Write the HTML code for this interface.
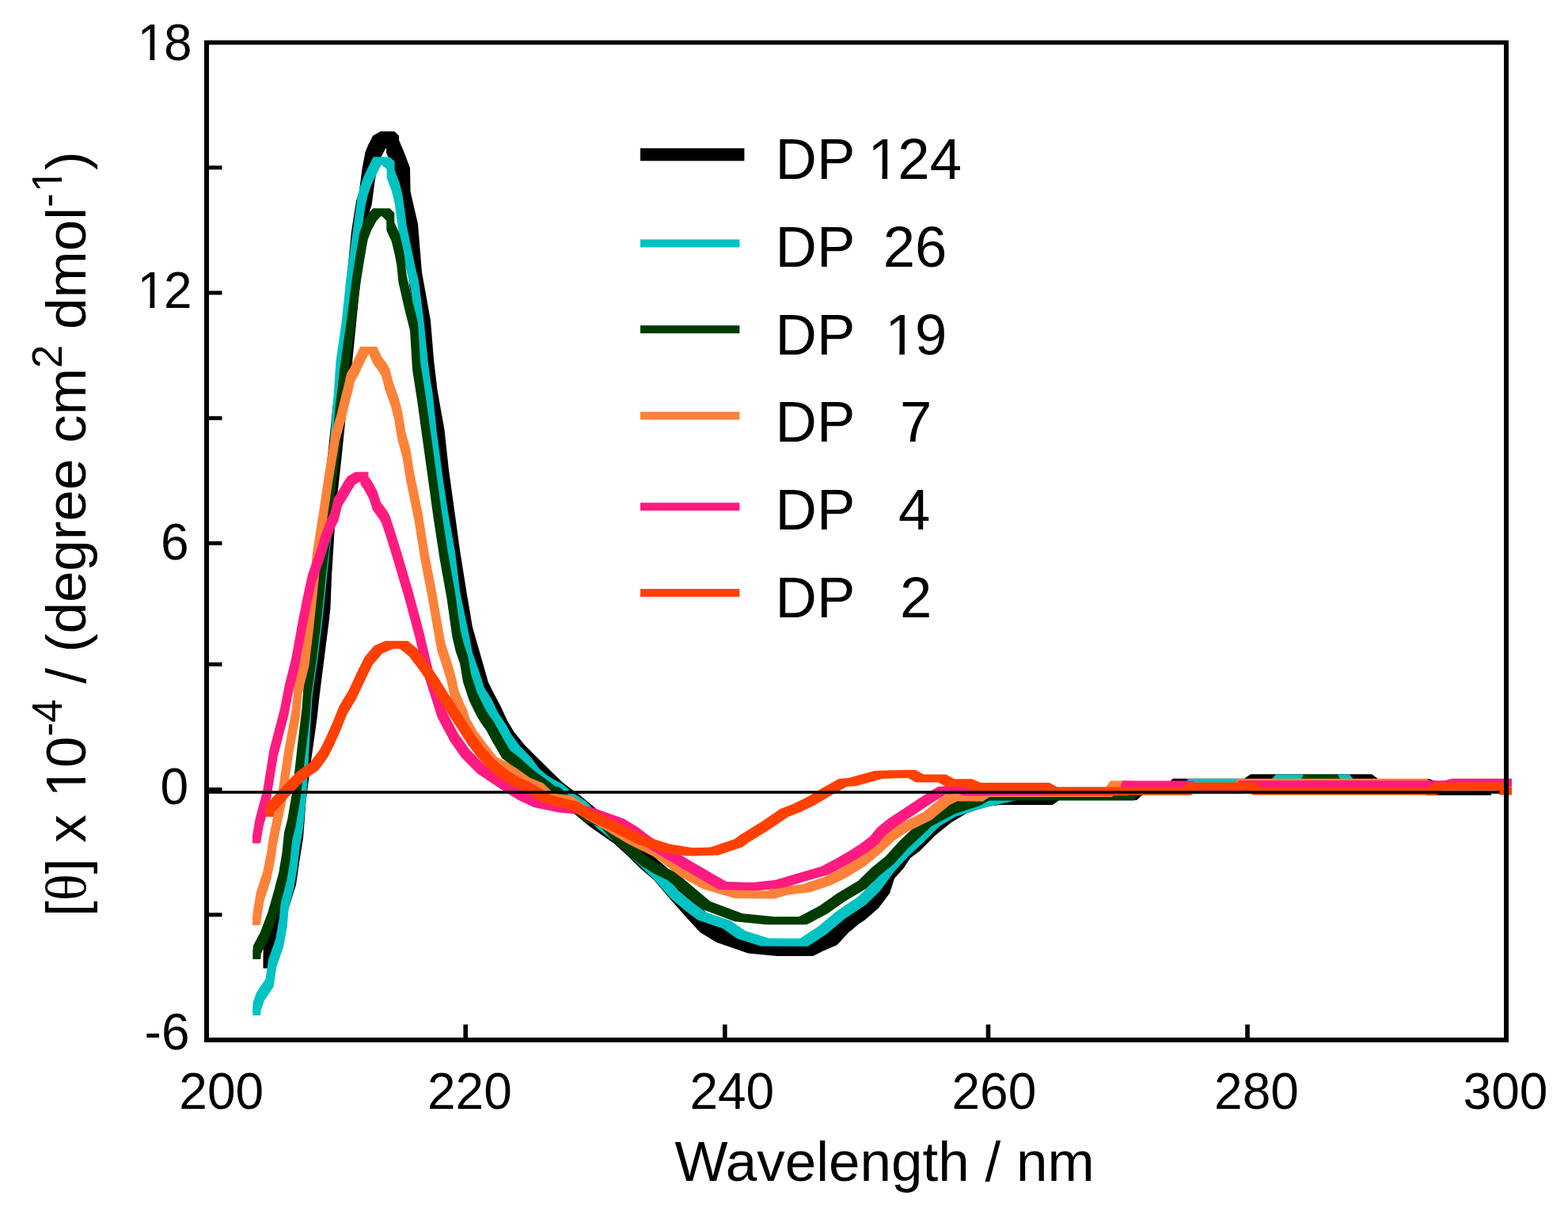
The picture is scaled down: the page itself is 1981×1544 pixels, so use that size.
<!DOCTYPE html>
<html><head><meta charset="utf-8"><title>CD spectra</title>
<style>html,body{margin:0;padding:0;background:#fff;}svg{display:block;}</style>
</head><body>
<svg width="1981" height="1544" viewBox="0 0 1981 1544">
<rect width="1981" height="1544" fill="#ffffff"/>
<path fill="#000000" d="M332.5,1207.5 333.0,1197.0 349.0,1197.0 349.0,1213.0 348.5,1223.5 332.5,1223.5ZM333.0,1197.0 336.0,1182.0 352.0,1182.0 352.0,1198.0 349.0,1213.0 333.0,1213.0ZM336.0,1182.0 342.0,1154.0 358.0,1154.0 358.0,1170.0 352.0,1198.0 336.0,1198.0ZM342.0,1154.0 350.0,1127.0 366.0,1127.0 366.0,1143.0 358.0,1170.0 342.0,1170.0ZM350.0,1127.0 358.0,1102.0 374.0,1102.0 374.0,1118.0 366.0,1143.0 350.0,1143.0ZM358.0,1102.0 362.3,1072.0 378.3,1072.0 378.3,1088.0 374.0,1118.0 358.0,1118.0ZM362.3,1072.0 367.0,1043.6 383.0,1043.6 383.0,1059.6 378.3,1088.0 362.3,1088.0ZM367.0,1043.6 370.5,997.0 386.5,997.0 386.5,1013.0 383.0,1059.6 367.0,1059.6ZM370.5,997.0 376.3,950.3 392.3,950.3 392.3,966.3 386.5,1013.0 370.5,1013.0ZM376.3,950.3 384.5,892.0 400.5,892.0 400.5,908.0 392.3,966.3 376.3,966.3ZM384.5,892.0 387.6,863.6 403.6,863.6 403.6,879.6 400.5,908.0 384.5,908.0ZM387.6,863.6 393.5,817.0 409.5,817.0 409.5,833.0 403.6,879.6 387.6,879.6ZM393.5,817.0 399.5,770.0 415.5,770.0 415.5,786.0 409.5,833.0 393.5,833.0ZM399.5,770.0 401.5,752.0 417.5,752.0 417.5,768.0 415.5,786.0 399.5,786.0ZM401.5,752.0 403.0,712.0 419.0,712.0 419.0,728.0 417.5,768.0 401.5,768.0ZM403.0,712.0 408.5,625.0 424.5,625.0 424.5,641.0 419.0,728.0 403.0,728.0ZM408.5,625.0 415.0,567.0 431.0,567.0 431.0,583.0 424.5,641.0 408.5,641.0ZM415.0,567.0 421.0,508.6 437.0,508.6 437.0,524.6 431.0,583.0 415.0,583.0ZM421.0,508.6 428.0,452.0 444.0,452.0 444.0,468.0 437.0,524.6 421.0,524.6ZM428.0,452.0 434.0,392.0 450.0,392.0 450.0,408.0 444.0,468.0 428.0,468.0ZM434.0,392.0 439.0,342.0 455.0,342.0 455.0,358.0 450.0,408.0 434.0,408.0ZM439.0,342.0 444.0,292.0 460.0,292.0 460.0,308.0 455.0,358.0 439.0,358.0ZM444.0,292.0 450.0,254.0 466.0,254.0 466.0,270.0 460.0,308.0 444.0,308.0ZM450.0,254.0 453.6,243.0 469.6,243.0 469.6,259.0 466.0,270.0 450.0,270.0ZM453.6,243.0 457.6,212.7 473.6,212.7 473.6,228.7 469.6,259.0 453.6,259.0ZM457.6,212.7 461.5,192.0 477.5,192.0 477.5,208.0 473.6,228.7 457.6,228.7ZM461.5,192.0 464.9,183.7 480.9,183.7 480.9,199.7 477.5,208.0 461.5,208.0ZM464.9,183.7 471.1,171.4 487.1,171.4 487.1,187.4 480.9,199.7 464.9,199.7ZM471.1,171.4 480.8,165.9 496.8,165.9 496.8,181.9 487.1,187.4 471.1,187.4ZM480.8,165.9 498.3,165.9 498.3,181.9 480.8,181.9ZM482.3,165.9 498.3,165.9 504.1,171.4 504.1,187.4 488.1,187.4 482.3,181.9ZM488.1,171.4 504.1,171.4 504.1,193.2 488.1,193.2ZM488.1,177.2 504.1,177.2 510.0,191.0 510.0,207.0 494.0,207.0 488.1,193.2ZM494.0,191.0 510.0,191.0 518.0,212.0 518.0,228.0 502.0,228.0 494.0,207.0ZM502.0,212.0 518.0,212.0 518.6,242.0 518.6,258.0 502.6,258.0 502.0,228.0ZM502.6,242.0 518.6,242.0 528.0,283.0 528.0,299.0 512.0,299.0 502.6,258.0ZM512.0,283.0 528.0,283.0 533.0,344.0 533.0,360.0 517.0,360.0 512.0,299.0ZM517.0,344.0 533.0,344.0 539.0,377.0 539.0,393.0 523.0,393.0 517.0,360.0ZM523.0,377.0 539.0,377.0 544.0,405.0 544.0,421.0 528.0,421.0 523.0,393.0ZM528.0,405.0 544.0,405.0 548.0,454.0 548.0,470.0 532.0,470.0 528.0,421.0ZM532.0,454.0 548.0,454.0 552.5,492.5 552.5,508.5 536.5,508.5 532.0,470.0ZM536.5,492.5 552.5,492.5 561.5,543.0 561.5,559.0 545.5,559.0 536.5,508.5ZM545.5,543.0 561.5,543.0 567.0,593.6 567.0,609.6 551.0,609.6 545.5,559.0ZM551.0,593.6 567.0,593.6 574.0,644.1 574.0,660.1 558.0,660.1 551.0,609.6ZM558.0,644.1 574.0,644.1 581.0,694.7 581.0,710.7 565.0,710.7 558.0,660.1ZM565.0,694.7 581.0,694.7 589.0,745.2 589.0,761.2 573.0,761.2 565.0,710.7ZM573.0,745.2 589.0,745.2 597.0,792.5 597.0,808.5 581.0,808.5 573.0,761.2ZM581.0,792.5 597.0,792.5 611.5,843.0 611.5,859.0 595.5,859.0 581.0,808.5ZM595.5,843.0 611.5,843.0 617.0,862.2 617.0,878.2 601.0,878.2 595.5,859.0ZM601.0,862.2 617.0,862.2 624.8,877.7 624.8,893.7 608.8,893.7 601.0,878.2ZM608.8,877.7 624.8,877.7 632.6,892.5 632.6,908.5 616.6,908.5 608.8,893.7ZM616.6,892.5 632.6,892.5 641.0,910.5 641.0,926.5 625.0,926.5 616.6,908.5ZM625.0,910.5 641.0,910.5 649.2,924.4 649.2,940.4 633.2,940.4 625.0,926.5ZM633.2,924.4 649.2,924.4 663.0,941.5 663.0,957.5 647.0,957.5 633.2,940.4ZM647.0,941.5 663.0,941.5 679.0,957.5 679.0,973.5 663.0,973.5 647.0,957.5ZM663.0,957.5 679.0,957.5 694.8,973.0 694.8,989.0 678.8,989.0 663.0,973.5ZM678.8,973.0 694.8,973.0 710.2,988.0 710.2,1004.0 694.2,1004.0 678.8,989.0ZM694.2,988.0 710.2,988.0 717.8,994.0 717.8,1010.0 701.8,1010.0 694.2,1004.0ZM701.8,994.0 717.8,994.0 731.7,1004.0 731.7,1020.0 715.7,1020.0 701.8,1010.0ZM715.7,1004.0 731.7,1004.0 741.3,1012.0 741.3,1028.0 725.3,1028.0 715.7,1020.0ZM725.3,1012.0 741.3,1012.0 760.6,1028.0 760.6,1044.0 744.6,1044.0 725.3,1028.0ZM744.6,1028.0 760.6,1028.0 774.9,1038.0 774.9,1054.0 758.9,1054.0 744.6,1044.0ZM758.9,1038.0 774.9,1038.0 791.8,1049.8 791.8,1065.8 775.8,1065.8 758.9,1054.0ZM775.8,1049.8 791.8,1049.8 808.6,1065.0 808.6,1081.0 792.6,1081.0 775.8,1065.8ZM792.6,1065.0 808.6,1065.0 825.5,1081.8 825.5,1097.8 809.5,1097.8 792.6,1081.0ZM809.5,1081.8 825.5,1081.8 842.3,1096.0 842.3,1112.0 826.3,1112.0 809.5,1097.8ZM826.3,1096.0 842.3,1096.0 860.0,1117.0 860.0,1133.0 844.0,1133.0 826.3,1112.0ZM844.0,1117.0 860.0,1117.0 880.3,1140.0 880.3,1156.0 864.3,1156.0 844.0,1133.0ZM864.3,1140.0 880.3,1140.0 900.5,1162.0 900.5,1178.0 884.5,1178.0 864.3,1156.0ZM884.5,1162.0 900.5,1162.0 920.8,1174.6 920.8,1190.6 904.8,1190.6 884.5,1178.0ZM904.8,1174.6 920.8,1174.6 961.2,1188.5 961.2,1204.5 945.2,1204.5 904.8,1190.6ZM945.2,1188.5 961.2,1188.5 998.0,1191.9 998.0,1207.9 982.0,1207.9 945.2,1204.5ZM982.0,1191.9 1027.2,1191.9 1027.2,1207.9 982.0,1207.9ZM1011.2,1191.9 1023.0,1186.1 1039.0,1186.1 1039.0,1202.1 1027.2,1207.9 1011.2,1207.9ZM1023.0,1186.1 1041.6,1177.9 1057.6,1177.9 1057.6,1193.9 1039.0,1202.1 1023.0,1202.1ZM1041.6,1177.9 1055.6,1162.8 1071.6,1162.8 1071.6,1178.8 1057.6,1193.9 1041.6,1193.9ZM1055.6,1162.8 1069.6,1151.1 1085.6,1151.1 1085.6,1167.1 1071.6,1178.8 1055.6,1178.8ZM1069.6,1151.1 1076.6,1146.4 1092.6,1146.4 1092.6,1162.4 1085.6,1167.1 1069.6,1167.1ZM1076.6,1146.4 1094.1,1131.3 1110.1,1131.3 1110.1,1147.3 1092.6,1162.4 1076.6,1162.4ZM1094.1,1131.3 1108.1,1112.6 1124.1,1112.6 1124.1,1128.6 1110.1,1147.3 1094.1,1147.3ZM1108.1,1112.6 1114.0,1094.0 1130.0,1094.0 1130.0,1110.0 1124.1,1128.6 1108.1,1128.6ZM1114.0,1094.0 1125.6,1081.1 1141.6,1081.1 1141.6,1097.1 1130.0,1110.0 1114.0,1110.0ZM1125.6,1081.1 1134.0,1068.3 1150.0,1068.3 1150.0,1084.3 1141.6,1097.1 1125.6,1097.1ZM1134.0,1068.3 1145.7,1059.4 1161.7,1059.4 1161.7,1075.4 1150.0,1084.3 1134.0,1084.3ZM1145.7,1059.4 1165.9,1039.2 1181.9,1039.2 1181.9,1055.2 1161.7,1075.4 1145.7,1075.4ZM1165.9,1039.2 1186.1,1023.0 1202.1,1023.0 1202.1,1039.0 1181.9,1055.2 1165.9,1055.2ZM1186.1,1023.0 1206.3,1011.0 1222.3,1011.0 1222.3,1027.0 1202.1,1039.0 1186.1,1039.0ZM1206.3,1011.0 1232.0,1003.0 1248.0,1003.0 1248.0,1019.0 1222.3,1027.0 1206.3,1027.0ZM1232.0,1003.0 1247.0,1001.0 1263.0,1001.0 1263.0,1017.0 1248.0,1019.0 1232.0,1019.0ZM1247.0,1001.0 1330.0,1001.0 1330.0,1017.0 1247.0,1017.0ZM1314.0,1001.0 1322.0,995.0 1338.0,995.0 1338.0,1011.0 1330.0,1017.0 1314.0,1017.0ZM1322.0,995.0 1436.0,995.0 1436.0,1011.0 1322.0,1011.0ZM1420.0,995.0 1428.0,988.0 1444.0,988.0 1444.0,1004.0 1436.0,1011.0 1420.0,1011.0ZM1428.0,988.0 1493.0,988.0 1493.0,1004.0 1428.0,1004.0ZM1477.0,988.0 1482.0,983.8 1498.0,983.8 1498.0,999.8 1493.0,1004.0 1477.0,1004.0ZM1482.0,983.8 1588.0,983.8 1588.0,999.8 1482.0,999.8ZM1572.0,983.8 1580.0,978.3 1596.0,978.3 1596.0,994.3 1588.0,999.8 1572.0,999.8ZM1580.0,978.3 1733.0,978.3 1733.0,994.3 1580.0,994.3ZM1717.0,978.3 1733.0,978.3 1741.0,984.0 1741.0,1000.0 1725.0,1000.0 1717.0,994.3ZM1725.0,984.0 1805.0,984.0 1805.0,1000.0 1725.0,1000.0ZM1789.0,984.0 1805.0,984.0 1819.0,988.8 1819.0,1004.8 1803.0,1004.8 1789.0,1000.0ZM1803.0,988.8 1884.0,988.8 1884.0,1004.8 1803.0,1004.8Z"/>
<path fill="#00C2C2" d="M319.2,1273.0 319.5,1267.0 329.5,1267.0 329.5,1277.0 329.2,1283.0 319.2,1283.0ZM319.5,1267.0 324.0,1254.0 334.0,1254.0 334.0,1264.0 329.5,1277.0 319.5,1277.0ZM324.0,1254.0 335.5,1237.0 345.5,1237.0 345.5,1247.0 334.0,1264.0 324.0,1264.0ZM335.5,1237.0 339.2,1212.0 349.2,1212.0 349.2,1222.0 345.5,1247.0 335.5,1247.0ZM339.2,1212.0 348.1,1186.5 358.1,1186.5 358.1,1196.5 349.2,1222.0 339.2,1222.0ZM348.1,1186.5 352.7,1161.0 362.7,1161.0 362.7,1171.0 358.1,1196.5 348.1,1196.5ZM352.7,1161.0 354.9,1136.0 364.9,1136.0 364.9,1146.0 362.7,1171.0 352.7,1171.0ZM354.9,1136.0 361.6,1111.0 371.6,1111.0 371.6,1121.0 364.9,1146.0 354.9,1146.0ZM361.6,1111.0 365.8,1085.5 375.8,1085.5 375.8,1095.5 371.6,1121.0 361.6,1121.0ZM365.8,1085.5 368.7,1060.0 378.7,1060.0 378.7,1070.0 375.8,1095.5 365.8,1095.5ZM368.7,1060.0 372.5,1040.0 382.5,1040.0 382.5,1050.0 378.7,1070.0 368.7,1070.0ZM372.5,1040.0 377.0,998.0 387.0,998.0 387.0,1008.0 382.5,1050.0 372.5,1050.0ZM377.0,998.0 380.0,945.0 390.0,945.0 390.0,955.0 387.0,1008.0 377.0,1008.0ZM380.0,945.0 383.0,895.0 393.0,895.0 393.0,905.0 390.0,955.0 380.0,955.0ZM383.0,895.0 385.0,866.6 395.0,866.6 395.0,876.6 393.0,905.0 383.0,905.0ZM385.0,866.6 391.8,820.0 401.8,820.0 401.8,830.0 395.0,876.6 385.0,876.6ZM391.8,820.0 397.5,773.0 407.5,773.0 407.5,783.0 401.8,830.0 391.8,830.0ZM397.5,773.0 403.5,715.0 413.5,715.0 413.5,725.0 407.5,783.0 397.5,783.0ZM403.5,715.0 411.0,645.0 421.0,645.0 421.0,655.0 413.5,725.0 403.5,725.0ZM411.0,645.0 415.0,581.5 425.0,581.5 425.0,591.5 421.0,655.0 411.0,655.0ZM415.0,581.5 420.8,511.6 430.8,511.6 430.8,521.6 425.0,591.5 415.0,591.5ZM420.8,511.6 424.4,457.0 434.4,457.0 434.4,467.0 430.8,521.6 420.8,521.6ZM424.4,457.0 431.5,407.8 441.5,407.8 441.5,417.8 434.4,467.0 424.4,467.0ZM431.5,407.8 438.0,347.0 448.0,347.0 448.0,357.0 441.5,417.8 431.5,417.8ZM438.0,347.0 446.5,286.5 456.5,286.5 456.5,296.5 448.0,357.0 438.0,357.0ZM446.5,286.5 451.5,250.0 461.5,250.0 461.5,260.0 456.5,296.5 446.5,296.5ZM451.5,250.0 454.9,236.1 464.9,236.1 464.9,246.1 461.5,260.0 451.5,260.0ZM454.9,236.1 459.4,223.2 469.4,223.2 469.4,233.2 464.9,246.1 454.9,246.1ZM459.4,223.2 464.0,213.5 474.0,213.5 474.0,223.5 469.4,233.2 459.4,233.2ZM464.0,213.5 471.7,198.3 481.7,198.3 481.7,208.3 474.0,223.5 464.0,223.5ZM471.7,198.3 491.8,198.3 491.8,208.3 471.7,208.3ZM481.8,198.3 491.8,198.3 498.6,203.8 498.6,213.8 488.6,213.8 481.8,208.3ZM488.6,203.8 498.6,203.8 498.6,224.8 488.6,224.8ZM488.6,214.8 498.6,214.8 504.8,231.0 504.8,241.0 494.8,241.0 488.6,224.8ZM494.8,231.0 504.8,231.0 508.7,247.0 508.7,257.0 498.7,257.0 494.8,241.0ZM498.7,247.0 508.7,247.0 514.0,286.5 514.0,296.5 504.0,296.5 498.7,257.0ZM504.0,286.5 514.0,286.5 516.3,296.8 516.3,306.8 506.3,306.8 504.0,296.5ZM506.3,296.8 516.3,296.8 524.3,335.7 524.3,345.7 514.3,345.7 506.3,306.8ZM514.3,335.7 524.3,335.7 529.0,355.0 529.0,365.0 519.0,365.0 514.3,345.7ZM519.0,355.0 529.0,355.0 535.5,405.0 535.5,415.0 525.5,415.0 519.0,365.0ZM525.5,405.0 535.5,405.0 540.7,457.0 540.7,467.0 530.7,467.0 525.5,415.0ZM530.7,457.0 540.7,457.0 544.5,485.0 544.5,495.0 534.5,495.0 530.7,467.0ZM534.5,485.0 544.5,485.0 546.5,495.5 546.5,505.5 536.5,505.5 534.5,495.0ZM536.5,495.5 546.5,495.5 551.5,543.0 551.5,553.0 541.5,553.0 536.5,505.5ZM541.5,543.0 551.5,543.0 559.6,605.0 559.6,615.0 549.6,615.0 541.5,553.0ZM549.6,605.0 559.6,605.0 566.0,647.1 566.0,657.1 556.0,657.1 549.6,615.0ZM556.0,647.1 566.0,647.1 575.1,697.7 575.1,707.7 565.1,707.7 556.0,657.1ZM565.1,697.7 575.1,697.7 581.2,748.2 581.2,758.2 571.2,758.2 565.1,707.7ZM571.2,748.2 581.2,748.2 591.6,797.0 591.6,807.0 581.6,807.0 571.2,758.2ZM581.6,797.0 591.6,797.0 597.0,825.0 597.0,835.0 587.0,835.0 581.6,807.0ZM587.0,825.0 597.0,825.0 604.7,846.3 604.7,856.3 594.7,856.3 587.0,835.0ZM594.7,846.3 604.7,846.3 611.8,868.7 611.8,878.7 601.8,878.7 594.7,856.3ZM601.8,868.7 611.8,868.7 621.0,883.0 621.0,893.0 611.0,893.0 601.8,878.7ZM611.0,883.0 621.0,883.0 629.0,900.0 629.0,910.0 619.0,910.0 611.0,893.0ZM619.0,900.0 629.0,900.0 639.7,916.0 639.7,926.0 629.7,926.0 619.0,910.0ZM629.7,916.0 639.7,916.0 646.0,928.0 646.0,938.0 636.0,938.0 629.7,926.0ZM636.0,928.0 646.0,928.0 656.0,941.5 656.0,951.5 646.0,951.5 636.0,938.0ZM646.0,941.5 656.0,941.5 663.7,949.5 663.7,959.5 653.7,959.5 646.0,951.5ZM653.7,949.5 663.7,949.5 672.0,958.5 672.0,968.5 662.0,968.5 653.7,959.5ZM662.0,958.5 672.0,958.5 680.2,970.0 680.2,980.0 670.2,980.0 662.0,968.5ZM670.2,970.0 680.2,970.0 691.0,979.5 691.0,989.5 681.0,989.5 670.2,980.0ZM681.0,979.5 691.0,979.5 700.1,985.0 700.1,995.0 690.1,995.0 681.0,989.5ZM690.1,985.0 700.1,985.0 710.2,990.3 710.2,1000.3 700.2,1000.3 690.1,995.0ZM700.2,990.3 710.2,990.3 718.3,997.1 718.3,1007.1 708.3,1007.1 700.2,1000.3ZM708.3,997.1 718.3,997.1 720.3,1001.0 720.3,1011.0 710.3,1011.0 708.3,1007.1ZM710.3,1001.0 720.3,1001.0 728.4,1004.5 728.4,1014.5 718.4,1014.5 710.3,1011.0ZM718.4,1004.5 728.4,1004.5 734.4,1008.4 734.4,1018.4 724.4,1018.4 718.4,1014.5ZM724.4,1008.4 734.4,1008.4 740.5,1012.5 740.5,1022.5 730.5,1022.5 724.4,1018.4ZM730.5,1012.5 740.5,1012.5 747.4,1019.7 747.4,1029.7 737.4,1029.7 730.5,1022.5ZM737.4,1019.7 747.4,1019.7 765.0,1037.0 765.0,1047.0 755.0,1047.0 737.4,1029.7ZM755.0,1037.0 765.0,1037.0 788.8,1056.0 788.8,1066.0 778.8,1066.0 755.0,1047.0ZM778.8,1056.0 788.8,1056.0 805.6,1072.0 805.6,1082.0 795.6,1082.0 778.8,1066.0ZM795.6,1072.0 805.6,1072.0 822.5,1088.0 822.5,1098.0 812.5,1098.0 795.6,1082.0ZM812.5,1088.0 822.5,1088.0 836.3,1101.3 836.3,1111.3 826.3,1111.3 812.5,1098.0ZM826.3,1101.3 836.3,1101.3 857.1,1125.0 857.1,1135.0 847.1,1135.0 826.3,1111.3ZM847.1,1125.0 857.1,1125.0 875.0,1140.0 875.0,1150.0 865.0,1150.0 847.1,1135.0ZM865.0,1140.0 875.0,1140.0 891.6,1152.5 891.6,1162.5 881.6,1162.5 865.0,1150.0ZM881.6,1152.5 891.6,1152.5 922.7,1163.0 922.7,1173.0 912.7,1173.0 881.6,1162.5ZM912.7,1163.0 922.7,1163.0 941.4,1176.0 941.4,1186.0 931.4,1186.0 912.7,1173.0ZM931.4,1176.0 941.4,1176.0 971.4,1185.6 971.4,1195.6 961.4,1195.6 931.4,1186.0ZM961.4,1185.6 971.4,1185.6 1020.7,1185.7 1020.7,1195.7 1010.7,1195.7 961.4,1195.6ZM1010.7,1185.7 1034.0,1170.5 1044.0,1170.5 1044.0,1180.5 1020.7,1195.7 1010.7,1195.7ZM1034.0,1170.5 1057.3,1151.0 1067.3,1151.0 1067.3,1161.0 1044.0,1180.5 1034.0,1180.5ZM1057.3,1151.0 1084.1,1133.0 1094.1,1133.0 1094.1,1143.0 1067.3,1161.0 1057.3,1161.0ZM1084.1,1133.0 1101.6,1116.0 1111.6,1116.0 1111.6,1126.0 1094.1,1143.0 1084.1,1143.0ZM1101.6,1116.0 1119.1,1092.0 1129.1,1092.0 1129.1,1102.0 1111.6,1126.0 1101.6,1126.0ZM1119.1,1092.0 1136.6,1073.0 1146.6,1073.0 1146.6,1083.0 1129.1,1102.0 1119.1,1102.0ZM1136.6,1073.0 1156.7,1054.3 1166.7,1054.3 1166.7,1064.3 1146.6,1083.0 1136.6,1083.0ZM1156.7,1054.3 1176.9,1034.0 1186.9,1034.0 1186.9,1044.0 1166.7,1064.3 1156.7,1064.3ZM1176.9,1034.0 1197.1,1021.9 1207.1,1021.9 1207.1,1031.9 1186.9,1044.0 1176.9,1044.0ZM1197.1,1021.9 1227.4,1012.2 1237.4,1012.2 1237.4,1022.2 1207.1,1031.9 1197.1,1031.9ZM1227.4,1012.2 1247.7,1007.2 1257.7,1007.2 1257.7,1017.2 1237.4,1022.2 1227.4,1022.2ZM1247.7,1007.2 1275.0,1001.0 1285.0,1001.0 1285.0,1011.0 1257.7,1017.2 1247.7,1017.2ZM1275.0,1001.0 1295.0,994.5 1305.0,994.5 1305.0,1004.5 1285.0,1011.0 1275.0,1011.0ZM1295.0,994.5 1505.0,994.5 1505.0,1004.5 1295.0,1004.5ZM1495.0,994.5 1501.0,984.0 1511.0,984.0 1511.0,994.0 1505.0,1004.5 1495.0,1004.5ZM1501.0,984.0 1617.0,984.0 1617.0,994.0 1501.0,994.0ZM1607.0,984.0 1612.0,978.5 1622.0,978.5 1622.0,988.5 1617.0,994.0 1607.0,994.0ZM1612.0,978.5 1705.0,978.5 1705.0,988.5 1612.0,988.5ZM1695.0,978.5 1705.0,978.5 1711.0,986.0 1711.0,996.0 1701.0,996.0 1695.0,988.5ZM1701.0,986.0 1711.0,986.0 1910.0,991.0 1910.0,1001.0 1900.0,1001.0 1701.0,996.0Z"/>
<path fill="#003C00" d="M319.3,1202.0 319.8,1195.0 329.8,1195.0 329.8,1205.0 329.3,1212.0 319.3,1212.0ZM319.8,1195.0 328.8,1178.0 338.8,1178.0 338.8,1188.0 329.8,1205.0 319.8,1205.0ZM328.8,1178.0 338.4,1152.8 348.4,1152.8 348.4,1162.8 338.8,1188.0 328.8,1188.0ZM338.4,1152.8 345.6,1127.6 355.6,1127.6 355.6,1137.6 348.4,1162.8 338.4,1162.8ZM345.6,1127.6 352.3,1102.3 362.3,1102.3 362.3,1112.3 355.6,1137.6 345.6,1137.6ZM352.3,1102.3 356.5,1077.1 366.5,1077.1 366.5,1087.1 362.3,1112.3 352.3,1112.3ZM356.5,1077.1 359.0,1051.8 369.0,1051.8 369.0,1061.8 366.5,1087.1 356.5,1087.1ZM359.0,1051.8 363.3,1035.0 373.3,1035.0 373.3,1045.0 369.0,1061.8 359.0,1061.8ZM363.3,1035.0 369.7,997.7 379.7,997.7 379.7,1007.7 373.3,1045.0 363.3,1045.0ZM369.7,997.7 375.3,947.1 385.3,947.1 385.3,957.1 379.7,1007.7 369.7,1007.7ZM375.3,947.1 381.5,895.0 391.5,895.0 391.5,905.0 385.3,957.1 375.3,957.1ZM381.5,895.0 383.6,866.6 393.6,866.6 393.6,876.6 391.5,905.0 381.5,905.0ZM383.6,866.6 390.3,820.0 400.3,820.0 400.3,830.0 393.6,876.6 383.6,876.6ZM390.3,820.0 396.0,773.0 406.0,773.0 406.0,783.0 400.3,830.0 390.3,830.0ZM396.0,773.0 402.0,715.0 412.0,715.0 412.0,725.0 406.0,783.0 396.0,783.0ZM402.0,715.0 407.0,675.0 417.0,675.0 417.0,685.0 412.0,725.0 402.0,725.0ZM407.0,675.0 414.0,605.0 424.0,605.0 424.0,615.0 417.0,685.0 407.0,685.0ZM414.0,605.0 420.0,555.0 430.0,555.0 430.0,565.0 424.0,615.0 414.0,615.0ZM420.0,555.0 424.0,511.6 434.0,511.6 434.0,521.6 430.0,565.0 420.0,565.0ZM424.0,511.6 430.5,457.0 440.5,457.0 440.5,467.0 434.0,521.6 424.0,521.6ZM430.5,457.0 437.5,407.8 447.5,407.8 447.5,417.8 440.5,467.0 430.5,467.0ZM437.5,407.8 445.6,347.0 455.6,347.0 455.6,357.0 447.5,417.8 437.5,417.8ZM445.6,347.0 449.7,321.2 459.7,321.2 459.7,331.2 455.6,357.0 445.6,357.0ZM449.7,321.2 453.0,301.8 463.0,301.8 463.0,311.8 459.7,331.2 449.7,331.2ZM453.0,301.8 454.9,292.1 464.9,292.1 464.9,302.1 463.0,311.8 453.0,311.8ZM454.9,292.1 459.4,280.4 469.4,280.4 469.4,290.4 464.9,302.1 454.9,302.1ZM459.4,280.4 465.9,268.8 475.9,268.8 475.9,278.8 469.4,290.4 459.4,290.4ZM465.9,268.8 471.4,263.3 481.4,263.3 481.4,273.3 475.9,278.8 465.9,278.8ZM471.4,263.3 492.5,263.3 492.5,273.3 471.4,273.3ZM482.5,263.3 492.5,263.3 498.3,269.1 498.3,279.1 488.3,279.1 482.5,273.3ZM488.3,269.1 498.3,269.1 498.3,291.1 488.3,291.1ZM488.3,281.1 498.3,281.1 504.8,295.3 504.8,305.3 494.8,305.3 488.3,291.1ZM494.8,295.3 504.8,295.3 508.7,311.5 508.7,321.5 498.7,321.5 494.8,305.3ZM498.7,311.5 508.7,311.5 511.2,324.5 511.2,334.5 501.2,334.5 498.7,321.5ZM501.2,324.5 511.2,324.5 513.5,347.0 513.5,357.0 503.5,357.0 501.2,334.5ZM503.5,347.0 513.5,347.0 521.0,380.0 521.0,390.0 511.0,390.0 503.5,357.0ZM511.0,380.0 521.0,380.0 528.0,407.8 528.0,417.8 518.0,417.8 511.0,390.0ZM518.0,407.8 528.0,407.8 531.0,457.0 531.0,467.0 521.0,467.0 518.0,417.8ZM521.0,457.0 531.0,457.0 537.0,495.5 537.0,505.5 527.0,505.5 521.0,467.0ZM527.0,495.5 537.0,495.5 544.0,546.0 544.0,556.0 534.0,556.0 527.0,505.5ZM534.0,546.0 544.0,546.0 551.0,596.6 551.0,606.6 541.0,606.6 534.0,556.0ZM541.0,596.6 551.0,596.6 558.0,647.1 558.0,657.1 548.0,657.1 541.0,606.6ZM548.0,647.1 558.0,647.1 565.8,697.7 565.8,707.7 555.8,707.7 548.0,657.1ZM555.8,697.7 565.8,697.7 574.5,746.0 574.5,756.0 564.5,756.0 555.8,707.7ZM564.5,746.0 574.5,746.0 581.5,795.5 581.5,805.5 571.5,805.5 564.5,756.0ZM571.5,795.5 581.5,795.5 586.0,814.0 586.0,824.0 576.0,824.0 571.5,805.5ZM576.0,814.0 586.0,814.0 591.1,828.5 591.1,838.5 581.1,838.5 576.0,824.0ZM581.1,828.5 591.1,828.5 595.0,851.8 595.0,861.8 585.0,861.8 581.1,838.5ZM585.0,851.8 595.0,851.8 602.7,875.1 602.7,885.1 592.7,885.1 585.0,861.8ZM592.7,875.1 602.7,875.1 609.0,888.0 609.0,898.0 599.0,898.0 592.7,885.1ZM599.0,888.0 609.0,888.0 612.5,895.0 612.5,905.0 602.5,905.0 599.0,898.0ZM602.5,895.0 612.5,895.0 618.0,904.1 618.0,914.1 608.0,914.1 602.5,905.0ZM608.0,904.1 618.0,904.1 624.2,912.6 624.2,922.6 614.2,922.6 608.0,914.1ZM614.2,912.6 624.2,912.6 632.6,928.0 632.6,938.0 622.6,938.0 614.2,922.6ZM622.6,928.0 632.6,928.0 644.3,948.0 644.3,958.0 634.3,958.0 622.6,938.0ZM634.3,948.0 644.3,948.0 656.6,957.4 656.6,967.4 646.6,967.4 634.3,958.0ZM646.6,957.4 656.6,957.4 665.4,965.5 665.4,975.5 655.4,975.5 646.6,967.4ZM655.4,965.5 665.4,965.5 675.5,974.3 675.5,984.3 665.5,984.3 655.4,975.5ZM665.5,974.3 675.5,974.3 691.5,985.8 691.5,995.8 681.5,995.8 665.5,984.3ZM681.5,985.8 691.5,985.8 702.5,994.3 702.5,1004.3 692.5,1004.3 681.5,995.8ZM692.5,994.3 702.5,994.3 706.6,994.4 706.6,1004.4 696.6,1004.4 692.5,1004.3ZM696.6,994.4 706.6,994.4 733.6,1017.0 733.6,1027.0 723.6,1027.0 696.6,1004.4ZM723.6,1017.0 733.6,1017.0 752.1,1029.7 752.1,1039.7 742.1,1039.7 723.6,1027.0ZM742.1,1029.7 752.1,1029.7 768.9,1035.0 768.9,1045.0 758.9,1045.0 742.1,1039.7ZM758.9,1035.0 768.9,1035.0 785.8,1054.1 785.8,1064.1 775.8,1064.1 758.9,1045.0ZM775.8,1054.1 785.8,1054.1 802.6,1069.3 802.6,1079.3 792.6,1079.3 775.8,1064.1ZM792.6,1069.3 802.6,1069.3 819.5,1083.6 819.5,1093.6 809.5,1093.6 792.6,1079.3ZM809.5,1083.6 819.5,1083.6 836.3,1093.7 836.3,1103.7 826.3,1103.7 809.5,1093.6ZM826.3,1093.7 836.3,1093.7 853.2,1102.1 853.2,1112.1 843.2,1112.1 826.3,1103.7ZM843.2,1102.1 853.2,1102.1 857.1,1105.0 857.1,1115.0 847.1,1115.0 843.2,1112.1ZM847.1,1105.0 857.1,1105.0 897.5,1139.1 897.5,1149.1 887.5,1149.1 847.1,1115.0ZM887.5,1139.1 897.5,1139.1 938.0,1154.3 938.0,1164.3 928.0,1164.3 887.5,1149.1ZM928.0,1154.3 938.0,1154.3 978.4,1158.3 978.4,1168.3 968.4,1168.3 928.0,1164.3ZM968.4,1158.3 1018.8,1158.3 1018.8,1168.3 968.4,1168.3ZM1008.8,1158.3 1011.8,1157.0 1021.8,1157.0 1021.8,1167.0 1018.8,1168.3 1008.8,1168.3ZM1011.8,1157.0 1035.4,1144.5 1045.4,1144.5 1045.4,1154.5 1021.8,1167.0 1011.8,1167.0ZM1035.4,1144.5 1057.3,1129.0 1067.3,1129.0 1067.3,1139.0 1045.4,1154.5 1035.4,1154.5ZM1057.3,1129.0 1084.1,1113.0 1094.1,1113.0 1094.1,1123.0 1067.3,1139.0 1057.3,1139.0ZM1084.1,1113.0 1101.6,1096.0 1111.6,1096.0 1111.6,1106.0 1094.1,1123.0 1084.1,1123.0ZM1101.6,1096.0 1119.1,1081.7 1129.1,1081.7 1129.1,1091.7 1111.6,1106.0 1101.6,1106.0ZM1119.1,1081.7 1136.6,1062.4 1146.6,1062.4 1146.6,1072.4 1129.1,1091.7 1119.1,1091.7ZM1136.6,1062.4 1166.8,1034.0 1176.8,1034.0 1176.8,1044.0 1146.6,1072.4 1136.6,1072.4ZM1166.8,1034.0 1197.1,1017.9 1207.1,1017.9 1207.1,1027.9 1176.8,1044.0 1166.8,1044.0ZM1197.1,1017.9 1227.4,1008.2 1237.4,1008.2 1237.4,1018.2 1207.1,1027.9 1197.1,1027.9ZM1227.4,1008.2 1240.0,1001.5 1250.0,1001.5 1250.0,1011.5 1237.4,1018.2 1227.4,1018.2ZM1240.0,1001.5 1433.0,1001.5 1433.0,1011.5 1240.0,1011.5ZM1423.0,1001.5 1431.0,992.0 1441.0,992.0 1441.0,1002.0 1433.0,1011.5 1423.0,1011.5ZM1431.0,992.0 1650.0,992.0 1650.0,1002.0 1431.0,1002.0ZM1640.0,992.0 1647.0,978.5 1657.0,978.5 1657.0,988.5 1650.0,1002.0 1640.0,1002.0ZM1647.0,978.5 1690.0,978.5 1690.0,988.5 1647.0,988.5ZM1680.0,978.5 1690.0,978.5 1697.0,992.0 1697.0,1002.0 1687.0,1002.0 1680.0,988.5ZM1687.0,992.0 1910.0,992.0 1910.0,1002.0 1687.0,1002.0Z"/>
<path fill="#FD8239" d="M319.0,1159.0 319.6,1152.8 329.6,1152.8 329.6,1162.8 329.0,1169.0 319.0,1169.0ZM319.6,1152.8 323.7,1127.6 333.7,1127.6 333.7,1137.6 329.6,1162.8 319.6,1162.8ZM323.7,1127.6 332.1,1102.3 342.1,1102.3 342.1,1112.3 333.7,1137.6 323.7,1137.6ZM332.1,1102.3 337.2,1077.1 347.2,1077.1 347.2,1087.1 342.1,1112.3 332.1,1112.3ZM337.2,1077.1 339.9,1058.3 349.9,1058.3 349.9,1068.3 347.2,1087.1 337.2,1087.1ZM339.9,1058.3 344.5,1035.0 354.5,1035.0 354.5,1045.0 349.9,1068.3 339.9,1068.3ZM344.5,1035.0 351.0,1005.0 361.0,1005.0 361.0,1015.0 354.5,1045.0 344.5,1045.0ZM351.0,1005.0 355.0,976.6 365.0,976.6 365.0,986.6 361.0,1015.0 351.0,1015.0ZM355.0,976.6 360.3,941.6 370.3,941.6 370.3,951.6 365.0,986.6 355.0,986.6ZM360.3,941.6 369.0,895.0 379.0,895.0 379.0,905.0 370.3,951.6 360.3,951.6ZM369.0,895.0 371.6,866.6 381.6,866.6 381.6,876.6 379.0,905.0 369.0,905.0ZM371.6,866.6 380.4,831.6 390.4,831.6 390.4,841.6 381.6,876.6 371.6,876.6ZM380.4,831.6 386.0,785.0 396.0,785.0 396.0,795.0 390.4,841.6 380.4,841.6ZM386.0,785.0 390.0,747.0 400.0,747.0 400.0,757.0 396.0,795.0 386.0,795.0ZM390.0,747.0 395.0,697.7 405.0,697.7 405.0,707.7 400.0,757.0 390.0,757.0ZM395.0,697.7 403.0,647.1 413.0,647.1 413.0,657.1 405.0,707.7 395.0,707.7ZM403.0,647.1 410.5,596.6 420.5,596.6 420.5,606.6 413.0,657.1 403.0,657.1ZM410.5,596.6 419.0,546.0 429.0,546.0 429.0,556.0 420.5,606.6 410.5,606.6ZM419.0,546.0 426.5,520.0 436.5,520.0 436.5,530.0 429.0,556.0 419.0,556.0ZM426.5,520.0 431.0,501.0 441.0,501.0 441.0,511.0 436.5,530.0 426.5,530.0ZM431.0,501.0 434.9,486.1 444.9,486.1 444.9,496.1 441.0,511.0 431.0,511.0ZM434.9,486.1 438.1,471.8 448.1,471.8 448.1,481.8 444.9,496.1 434.9,496.1ZM438.1,471.8 442.7,464.0 452.7,464.0 452.7,474.0 448.1,481.8 438.1,481.8ZM442.7,464.0 447.2,454.3 457.2,454.3 457.2,464.3 452.7,474.0 442.7,474.0ZM447.2,454.3 455.3,438.1 465.3,438.1 465.3,448.1 457.2,464.3 447.2,464.3ZM455.3,438.1 476.3,438.1 476.3,448.1 455.3,448.1ZM466.3,438.1 476.3,438.1 481.5,449.8 481.5,459.8 471.5,459.8 466.3,448.1ZM471.5,449.8 481.5,449.8 488.7,459.5 488.7,469.5 478.7,469.5 471.5,459.8ZM478.7,459.5 488.7,459.5 492.5,466.6 492.5,476.6 482.5,476.6 478.7,469.5ZM482.5,466.6 492.5,466.6 496.4,482.2 496.4,492.2 486.4,492.2 482.5,476.6ZM486.4,482.2 496.4,482.2 504.2,504.2 504.2,514.2 494.2,514.2 486.4,492.2ZM494.2,504.2 504.2,504.2 508.1,520.0 508.1,530.0 498.1,530.0 494.2,514.2ZM498.1,520.0 508.1,520.0 512.5,546.0 512.5,556.0 502.5,556.0 498.1,530.0ZM502.5,546.0 512.5,546.0 518.5,567.9 518.5,577.9 508.5,577.9 502.5,556.0ZM508.5,567.9 518.5,567.9 523.0,596.6 523.0,606.6 513.0,606.6 508.5,577.9ZM513.0,596.6 523.0,596.6 533.4,647.1 533.4,657.1 523.4,657.1 513.0,606.6ZM523.4,647.1 533.4,647.1 541.5,697.7 541.5,707.7 531.5,707.7 523.4,657.1ZM531.5,697.7 541.5,697.7 551.0,747.0 551.0,757.0 541.0,757.0 531.5,707.7ZM541.0,747.0 551.0,747.0 559.3,795.5 559.3,805.5 549.3,805.5 541.0,757.0ZM549.3,795.5 559.3,795.5 562.6,813.0 562.6,823.0 552.6,823.0 549.3,805.5ZM552.6,813.0 562.6,813.0 567.8,828.5 567.8,838.5 557.8,838.5 552.6,823.0ZM557.8,828.5 567.8,828.5 574.2,849.2 574.2,859.2 564.2,859.2 557.8,838.5ZM564.2,849.2 574.2,849.2 579.4,872.5 579.4,882.5 569.4,882.5 564.2,859.2ZM569.4,872.5 579.4,872.5 585.9,888.1 585.9,898.1 575.9,898.1 569.4,882.5ZM575.9,888.1 585.9,888.1 590.0,896.5 590.0,906.5 580.0,906.5 575.9,898.1ZM580.0,896.5 590.0,896.5 593.7,908.8 593.7,918.8 583.7,918.8 580.0,906.5ZM583.7,908.8 593.7,908.8 596.2,912.6 596.2,922.6 586.2,922.6 583.7,918.8ZM586.2,912.6 596.2,912.6 602.4,923.5 602.4,933.5 592.4,933.5 586.2,922.6ZM592.4,923.5 602.4,923.5 615.4,941.0 615.4,951.0 605.4,951.0 592.4,933.5ZM605.4,941.0 615.4,941.0 628.2,957.0 628.2,967.0 618.2,967.0 605.4,951.0ZM618.2,957.0 628.2,957.0 638.7,962.0 638.7,972.0 628.7,972.0 618.2,967.0ZM628.7,962.0 638.7,962.0 653.4,971.3 653.4,981.3 643.4,981.3 628.7,972.0ZM643.4,971.3 653.4,971.3 669.7,982.7 669.7,992.7 659.7,992.7 643.4,981.3ZM659.7,982.7 669.7,982.7 686.3,989.4 686.3,999.4 676.3,999.4 659.7,992.7ZM676.3,989.4 686.3,989.4 695.0,998.0 695.0,1008.0 685.0,1008.0 676.3,999.4ZM685.0,998.0 695.0,998.0 702.0,1003.0 702.0,1013.0 692.0,1013.0 685.0,1008.0ZM692.0,1003.0 702.0,1003.0 718.3,1004.4 718.3,1014.4 708.3,1014.4 692.0,1013.0ZM708.3,1004.4 718.3,1004.4 724.3,1006.4 724.3,1016.4 714.3,1016.4 708.3,1014.4ZM714.3,1006.4 724.3,1006.4 730.4,1011.3 730.4,1021.3 720.4,1021.3 714.3,1016.4ZM720.4,1011.3 730.4,1011.3 736.4,1015.3 736.4,1025.3 726.4,1025.3 720.4,1021.3ZM726.4,1015.3 736.4,1015.3 740.5,1018.1 740.5,1028.1 730.5,1028.1 726.4,1025.3ZM730.5,1018.1 740.5,1018.1 750.0,1025.0 750.0,1035.0 740.0,1035.0 730.5,1028.1ZM740.0,1025.0 750.0,1025.0 770.0,1036.0 770.0,1046.0 760.0,1046.0 740.0,1035.0ZM760.0,1036.0 770.0,1036.0 785.8,1045.7 785.8,1055.7 775.8,1055.7 760.0,1046.0ZM775.8,1045.7 785.8,1045.7 802.6,1055.8 802.6,1065.8 792.6,1065.8 775.8,1055.7ZM792.6,1055.8 802.6,1055.8 819.5,1064.2 819.5,1074.2 809.5,1074.2 792.6,1065.8ZM809.5,1064.2 819.5,1064.2 836.3,1072.6 836.3,1082.6 826.3,1082.6 809.5,1074.2ZM826.3,1072.6 836.3,1072.6 853.2,1085.3 853.2,1095.3 843.2,1095.3 826.3,1082.6ZM843.2,1085.3 853.2,1085.3 870.0,1097.9 870.0,1107.9 860.0,1107.9 843.2,1095.3ZM860.0,1097.9 870.0,1097.9 897.5,1112.9 897.5,1122.9 887.5,1122.9 860.0,1107.9ZM887.5,1112.9 897.5,1112.9 938.0,1125.0 938.0,1135.0 928.0,1135.0 887.5,1122.9ZM928.0,1125.0 938.0,1125.0 978.4,1125.4 978.4,1135.4 968.4,1135.4 928.0,1135.0ZM968.4,1125.4 985.0,1120.7 995.0,1120.7 995.0,1130.7 978.4,1135.4 968.4,1135.4ZM985.0,1120.7 1014.2,1117.2 1024.2,1117.2 1024.2,1127.2 995.0,1130.7 985.0,1130.7ZM1014.2,1117.2 1040.0,1108.5 1050.0,1108.5 1050.0,1118.5 1024.2,1127.2 1014.2,1127.2ZM1040.0,1108.5 1061.0,1098.0 1071.0,1098.0 1071.0,1108.0 1050.0,1118.5 1040.0,1118.5ZM1061.0,1098.0 1083.0,1084.5 1093.0,1084.5 1093.0,1094.5 1071.0,1108.0 1061.0,1108.0ZM1083.0,1084.5 1102.8,1068.0 1112.8,1068.0 1112.8,1078.0 1093.0,1094.5 1083.0,1094.5ZM1102.8,1068.0 1120.0,1052.0 1130.0,1052.0 1130.0,1062.0 1112.8,1078.0 1102.8,1078.0ZM1120.0,1052.0 1136.5,1041.0 1146.5,1041.0 1146.5,1051.0 1130.0,1062.0 1120.0,1062.0ZM1136.5,1041.0 1166.8,1026.0 1176.8,1026.0 1176.8,1036.0 1146.5,1051.0 1136.5,1051.0ZM1166.8,1026.0 1190.0,1007.0 1200.0,1007.0 1200.0,1017.0 1176.8,1036.0 1166.8,1036.0ZM1190.0,1007.0 1200.0,1002.5 1210.0,1002.5 1210.0,1012.5 1200.0,1017.0 1190.0,1017.0ZM1200.0,1002.5 1242.0,1002.5 1242.0,1012.5 1200.0,1012.5ZM1232.0,1002.5 1240.0,997.0 1250.0,997.0 1250.0,1007.0 1242.0,1012.5 1232.0,1012.5ZM1240.0,997.0 1405.0,997.0 1405.0,1007.0 1240.0,1007.0ZM1395.0,997.0 1403.0,986.5 1413.0,986.5 1413.0,996.5 1405.0,1007.0 1395.0,1007.0ZM1403.0,986.5 1430.0,986.5 1430.0,996.5 1403.0,996.5ZM1420.0,986.5 1430.0,986.5 1437.0,993.0 1437.0,1003.0 1427.0,1003.0 1420.0,996.5ZM1427.0,993.0 1567.0,993.0 1567.0,1003.0 1427.0,1003.0ZM1557.0,993.0 1564.0,983.8 1574.0,983.8 1574.0,993.8 1567.0,1003.0 1557.0,1003.0ZM1564.0,983.8 1802.0,983.8 1802.0,993.8 1564.0,993.8ZM1792.0,983.8 1802.0,983.8 1816.0,991.0 1816.0,1001.0 1806.0,1001.0 1792.0,993.8ZM1806.0,991.0 1910.0,991.0 1910.0,1001.0 1806.0,1001.0Z"/>
<path fill="#FF1B80" d="M319.0,1055.5 322.5,1035.0 332.5,1035.0 332.5,1045.0 329.0,1065.5 319.0,1065.5ZM322.5,1035.0 332.4,997.7 342.4,997.7 342.4,1007.7 332.5,1045.0 322.5,1045.0ZM332.4,997.7 340.5,947.1 350.5,947.1 350.5,957.1 342.4,1007.7 332.4,1007.7ZM340.5,947.1 354.1,895.0 364.1,895.0 364.1,905.0 350.5,957.1 340.5,957.1ZM354.1,895.0 359.6,866.6 369.6,866.6 369.6,876.6 364.1,905.0 354.1,905.0ZM359.6,866.6 368.3,831.6 378.3,831.6 378.3,841.6 369.6,876.6 359.6,876.6ZM368.3,831.6 376.7,785.0 386.7,785.0 386.7,795.0 378.3,841.6 368.3,841.6ZM376.7,785.0 383.7,750.0 393.7,750.0 393.7,760.0 386.7,795.0 376.7,795.0ZM383.7,750.0 389.0,726.0 399.0,726.0 399.0,736.0 393.7,760.0 383.7,760.0ZM389.0,726.0 399.0,697.7 409.0,697.7 409.0,707.7 399.0,736.0 389.0,736.0ZM399.0,697.7 405.2,677.2 415.2,677.2 415.2,687.2 409.0,707.7 399.0,707.7ZM405.2,677.2 413.0,656.4 423.0,656.4 423.0,666.4 415.2,687.2 405.2,687.2ZM413.0,656.4 417.5,648.0 427.5,648.0 427.5,658.0 423.0,666.4 413.0,666.4ZM417.5,648.0 422.0,629.2 432.0,629.2 432.0,639.2 427.5,658.0 417.5,658.0ZM422.0,629.2 427.8,620.2 437.8,620.2 437.8,630.2 432.0,639.2 422.0,639.2ZM427.8,620.2 434.3,609.1 444.3,609.1 444.3,619.1 437.8,630.2 427.8,630.2ZM434.3,609.1 438.9,602.0 448.9,602.0 448.9,612.0 444.3,619.1 434.3,619.1ZM438.9,602.0 448.9,596.2 458.9,596.2 458.9,606.2 448.9,612.0 438.9,612.0ZM448.9,596.2 465.4,596.2 465.4,606.2 448.9,606.2ZM455.4,596.2 465.4,596.2 465.4,612.0 455.4,612.0ZM455.4,602.0 465.4,602.0 470.0,608.5 470.0,618.5 460.0,618.5 455.4,612.0ZM460.0,608.5 470.0,608.5 473.8,615.6 473.8,625.6 463.8,625.6 460.0,618.5ZM463.8,615.6 473.8,615.6 476.4,620.2 476.4,630.2 466.4,630.2 463.8,625.6ZM466.4,620.2 476.4,620.2 481.0,634.4 481.0,644.4 471.0,644.4 466.4,630.2ZM471.0,634.4 481.0,634.4 489.4,646.1 489.4,656.1 479.4,656.1 471.0,644.4ZM479.4,646.1 489.4,646.1 492.6,651.9 492.6,661.9 482.6,661.9 479.4,656.1ZM482.6,651.9 492.6,651.9 499.7,673.9 499.7,683.9 489.7,683.9 482.6,661.9ZM489.7,673.9 499.7,673.9 507.0,697.7 507.0,707.7 497.0,707.7 489.7,683.9ZM497.0,697.7 507.0,697.7 521.5,747.0 521.5,757.0 511.5,757.0 497.0,707.7ZM511.5,747.0 521.5,747.0 534.5,795.5 534.5,805.5 524.5,805.5 511.5,757.0ZM524.5,795.5 534.5,795.5 546.6,846.0 546.6,856.0 536.6,856.0 524.5,805.5ZM536.6,846.0 546.6,846.0 562.7,896.6 562.7,906.6 552.7,906.6 536.6,856.0ZM552.7,896.6 562.7,896.6 578.9,926.9 578.9,936.9 568.9,936.9 552.7,906.6ZM568.9,926.9 578.9,926.9 593.0,947.1 593.0,957.1 583.0,957.1 568.9,936.9ZM583.0,947.1 593.0,947.1 613.0,967.3 613.0,977.3 603.0,977.3 583.0,957.1ZM603.0,967.3 613.0,967.3 643.5,987.5 643.5,997.5 633.5,997.5 603.0,977.3ZM633.5,987.5 643.5,987.5 665.0,1001.0 665.0,1011.0 655.0,1011.0 633.5,997.5ZM655.0,1001.0 665.0,1001.0 684.4,1010.0 684.4,1020.0 674.4,1020.0 655.0,1011.0ZM674.4,1010.0 684.4,1010.0 715.5,1016.5 715.5,1026.5 705.5,1026.5 674.4,1020.0ZM705.5,1016.5 715.5,1016.5 746.3,1019.5 746.3,1029.5 736.3,1029.5 705.5,1026.5ZM736.3,1019.5 746.3,1019.5 767.4,1027.0 767.4,1037.0 757.4,1037.0 736.3,1029.5ZM757.4,1027.0 767.4,1027.0 788.4,1034.6 788.4,1044.6 778.4,1044.6 757.4,1037.0ZM778.4,1034.6 788.4,1034.6 805.3,1044.7 805.3,1054.7 795.3,1054.7 778.4,1044.6ZM795.3,1044.7 805.3,1044.7 822.1,1057.4 822.1,1067.4 812.1,1067.4 795.3,1054.7ZM812.1,1057.4 822.1,1057.4 836.9,1066.4 836.9,1076.4 826.9,1076.4 812.1,1067.4ZM826.9,1066.4 836.9,1066.4 877.3,1090.6 877.3,1100.6 867.3,1100.6 826.9,1076.4ZM867.3,1090.6 877.3,1090.6 917.8,1113.9 917.8,1123.9 907.8,1123.9 867.3,1100.6ZM907.8,1113.9 917.8,1113.9 958.2,1115.3 958.2,1125.3 948.2,1125.3 907.8,1123.9ZM948.2,1115.3 978.5,1111.9 988.5,1111.9 988.5,1121.9 958.2,1125.3 948.2,1125.3ZM978.5,1111.9 985.0,1110.2 995.0,1110.2 995.0,1120.2 988.5,1121.9 978.5,1121.9ZM985.0,1110.2 1014.2,1101.5 1024.2,1101.5 1024.2,1111.5 995.0,1120.2 985.0,1120.2ZM1014.2,1101.5 1037.0,1095.0 1047.0,1095.0 1047.0,1105.0 1024.2,1111.5 1014.2,1111.5ZM1037.0,1095.0 1055.0,1085.5 1065.0,1085.5 1065.0,1095.5 1047.0,1105.0 1037.0,1105.0ZM1055.0,1085.5 1070.0,1077.0 1080.0,1077.0 1080.0,1087.0 1065.0,1095.5 1055.0,1095.5ZM1070.0,1077.0 1086.5,1066.5 1096.5,1066.5 1096.5,1076.5 1080.0,1087.0 1070.0,1087.0ZM1086.5,1066.5 1099.0,1057.0 1109.0,1057.0 1109.0,1067.0 1096.5,1076.5 1086.5,1076.5ZM1099.0,1057.0 1108.0,1046.0 1118.0,1046.0 1118.0,1056.0 1109.0,1067.0 1099.0,1067.0ZM1108.0,1046.0 1121.5,1035.0 1131.5,1035.0 1131.5,1045.0 1118.0,1056.0 1108.0,1056.0ZM1121.5,1035.0 1156.7,1011.8 1166.7,1011.8 1166.7,1021.8 1131.5,1045.0 1121.5,1045.0ZM1156.7,1011.8 1170.0,1003.0 1180.0,1003.0 1180.0,1013.0 1166.7,1021.8 1156.7,1021.8ZM1170.0,1003.0 1185.0,994.0 1195.0,994.0 1195.0,1004.0 1180.0,1013.0 1170.0,1013.0ZM1185.0,994.0 1209.0,992.0 1219.0,992.0 1219.0,1002.0 1195.0,1004.0 1185.0,1004.0ZM1209.0,992.0 1219.0,992.0 1227.0,995.5 1227.0,1005.5 1217.0,1005.5 1209.0,1002.0ZM1217.0,995.5 1425.0,995.5 1425.0,1005.5 1217.0,1005.5ZM1415.0,995.5 1418.0,986.5 1428.0,986.5 1428.0,996.5 1425.0,1005.5 1415.0,1005.5ZM1418.0,986.5 1508.0,986.5 1508.0,996.5 1418.0,996.5ZM1498.0,986.5 1508.0,986.5 1512.0,993.0 1512.0,1003.0 1502.0,1003.0 1498.0,996.5ZM1502.0,993.0 1571.0,993.0 1571.0,1003.0 1502.0,1003.0ZM1561.0,993.0 1565.0,986.3 1575.0,986.3 1575.0,996.3 1571.0,1003.0 1561.0,1003.0ZM1565.0,986.3 1835.0,986.3 1835.0,996.3 1565.0,996.3ZM1825.0,986.3 1835.0,983.8 1845.0,983.8 1845.0,993.8 1835.0,996.3 1825.0,996.3ZM1835.0,983.8 1910.0,983.8 1910.0,993.8 1835.0,993.8Z"/>
<path fill="#FF4000" d="M335.5,1022.0 336.5,1016.0 346.5,1016.0 346.5,1026.0 345.5,1032.0 335.5,1032.0ZM336.5,1016.0 355.6,995.6 365.6,995.6 365.6,1005.6 346.5,1026.0 336.5,1026.0ZM355.6,995.6 375.8,974.4 385.8,974.4 385.8,984.4 365.6,1005.6 355.6,1005.6ZM375.8,974.4 392.0,963.3 402.0,963.3 402.0,973.3 385.8,984.4 375.8,984.4ZM392.0,963.3 404.1,947.1 414.1,947.1 414.1,957.1 402.0,973.3 392.0,973.3ZM404.1,947.1 412.2,931.0 422.2,931.0 422.2,941.0 414.1,957.1 404.1,957.1ZM412.2,931.0 420.3,912.8 430.3,912.8 430.3,922.8 422.2,941.0 412.2,941.0ZM420.3,912.8 428.4,892.5 438.4,892.5 438.4,902.5 430.3,922.8 420.3,922.8ZM428.4,892.5 440.5,872.3 450.5,872.3 450.5,882.3 438.4,902.5 428.4,902.5ZM440.5,872.3 452.7,846.0 462.7,846.0 462.7,856.0 450.5,882.3 440.5,882.3ZM452.7,846.0 460.7,829.9 470.7,829.9 470.7,839.9 462.7,856.0 452.7,856.0ZM460.7,829.9 472.9,815.7 482.9,815.7 482.9,825.7 470.7,839.9 460.7,839.9ZM472.9,815.7 487.0,809.7 497.0,809.7 497.0,819.7 482.9,825.7 472.9,825.7ZM487.0,809.7 515.2,809.7 515.2,819.7 487.0,819.7ZM505.2,809.7 515.2,809.7 527.3,819.8 527.3,829.8 517.3,829.8 505.2,819.7ZM517.3,819.8 527.3,819.8 539.5,836.0 539.5,846.0 529.5,846.0 517.3,829.8ZM529.5,836.0 539.5,836.0 553.6,856.2 553.6,866.2 543.6,866.2 529.5,846.0ZM543.6,856.2 553.6,856.2 567.8,879.0 567.8,889.0 557.8,889.0 543.6,866.2ZM557.8,879.0 567.8,879.0 580.0,898.0 580.0,908.0 570.0,908.0 557.8,889.0ZM570.0,898.0 580.0,898.0 590.0,913.5 590.0,923.5 580.0,923.5 570.0,908.0ZM580.0,913.5 590.0,913.5 600.0,929.0 600.0,939.0 590.0,939.0 580.0,923.5ZM590.0,929.0 600.0,929.0 611.0,944.0 611.0,954.0 601.0,954.0 590.0,939.0ZM601.0,944.0 611.0,944.0 626.0,960.7 626.0,970.7 616.0,970.7 601.0,954.0ZM616.0,960.7 626.0,960.7 640.5,972.4 640.5,982.4 630.5,982.4 616.0,970.7ZM630.5,972.4 640.5,972.4 655.5,982.3 655.5,992.3 645.5,992.3 630.5,982.4ZM645.5,982.3 655.5,982.3 670.0,988.5 670.0,998.5 660.0,998.5 645.5,992.3ZM660.0,988.5 670.0,988.5 683.0,996.0 683.0,1006.0 673.0,1006.0 660.0,998.5ZM673.0,996.0 683.0,996.0 695.0,1004.0 695.0,1014.0 685.0,1014.0 673.0,1006.0ZM685.0,1004.0 695.0,1004.0 715.0,1009.5 715.0,1019.5 705.0,1019.5 685.0,1014.0ZM705.0,1009.5 715.0,1009.5 729.3,1012.5 729.3,1022.5 719.3,1022.5 705.0,1019.5ZM719.3,1012.5 729.3,1012.5 747.0,1023.0 747.0,1033.0 737.0,1033.0 719.3,1022.5ZM737.0,1023.0 747.0,1023.0 776.3,1037.0 776.3,1047.0 766.3,1047.0 737.0,1033.0ZM766.3,1037.0 776.3,1037.0 816.7,1057.3 816.7,1067.3 806.7,1067.3 766.3,1047.0ZM806.7,1057.3 816.7,1057.3 847.0,1066.8 847.0,1076.8 837.0,1076.8 806.7,1067.3ZM837.0,1066.8 847.0,1066.8 877.3,1071.4 877.3,1081.4 867.3,1081.4 837.0,1076.8ZM867.3,1071.4 897.6,1070.4 907.6,1070.4 907.6,1080.4 877.3,1081.4 867.3,1081.4ZM897.6,1070.4 928.0,1060.3 938.0,1060.3 938.0,1070.3 907.6,1080.4 897.6,1080.4ZM928.0,1060.3 935.0,1055.0 945.0,1055.0 945.0,1065.0 938.0,1070.3 928.0,1070.3ZM935.0,1055.0 961.7,1038.5 971.7,1038.5 971.7,1048.5 945.0,1065.0 935.0,1065.0ZM961.7,1038.5 985.9,1022.0 995.9,1022.0 995.9,1032.0 971.7,1048.5 961.7,1048.5ZM985.9,1022.0 1001.6,1016.0 1011.6,1016.0 1011.6,1026.0 995.9,1032.0 985.9,1032.0ZM1001.6,1016.0 1019.8,1007.0 1029.8,1007.0 1029.8,1017.0 1011.6,1026.0 1001.6,1026.0ZM1019.8,1007.0 1040.0,995.0 1050.0,995.0 1050.0,1005.0 1029.8,1017.0 1019.8,1017.0ZM1040.0,995.0 1059.8,984.0 1069.8,984.0 1069.8,994.0 1050.0,1005.0 1040.0,1005.0ZM1059.8,984.0 1071.9,983.0 1081.9,983.0 1081.9,993.0 1069.8,994.0 1059.8,994.0ZM1071.9,983.0 1104.6,974.0 1114.6,974.0 1114.6,984.0 1081.9,993.0 1071.9,993.0ZM1104.6,974.0 1116.3,973.4 1126.3,973.4 1126.3,983.4 1114.6,984.0 1104.6,984.0ZM1116.3,973.4 1146.6,972.8 1156.6,972.8 1156.6,982.8 1126.3,983.4 1116.3,983.4ZM1146.6,972.8 1156.6,972.8 1167.0,978.4 1167.0,988.4 1157.0,988.4 1146.6,982.8ZM1157.0,978.4 1195.0,978.4 1195.0,988.4 1157.0,988.4ZM1185.0,978.4 1195.0,978.4 1206.0,984.3 1206.0,994.3 1196.0,994.3 1185.0,988.4ZM1196.0,984.3 1228.0,984.3 1228.0,994.3 1196.0,994.3ZM1218.0,984.3 1228.0,984.3 1239.0,989.0 1239.0,999.0 1229.0,999.0 1218.0,994.3ZM1229.0,989.0 1326.0,989.0 1326.0,999.0 1229.0,999.0ZM1316.0,989.0 1326.0,989.0 1336.0,994.5 1336.0,1004.5 1326.0,1004.5 1316.0,999.0ZM1326.0,994.5 1505.0,994.5 1505.0,1004.5 1326.0,1004.5ZM1495.0,994.5 1501.0,988.5 1511.0,988.5 1511.0,998.5 1505.0,1004.5 1495.0,1004.5ZM1501.0,988.5 1585.0,988.5 1585.0,998.5 1501.0,998.5ZM1575.0,988.5 1585.0,988.5 1593.0,994.5 1593.0,1004.5 1583.0,1004.5 1575.0,998.5ZM1583.0,994.5 1815.0,994.5 1815.0,1004.5 1583.0,1004.5ZM1805.0,994.5 1813.0,988.5 1823.0,988.5 1823.0,998.5 1815.0,1004.5 1805.0,1004.5ZM1813.0,988.5 1900.0,988.5 1900.0,998.5 1813.0,998.5ZM1890.0,988.5 1900.0,988.5 1905.0,994.5 1905.0,1004.5 1895.0,1004.5 1890.0,998.5ZM1895.0,994.5 1910.0,994.5 1910.0,1004.5 1895.0,1004.5Z"/>
<rect x="264" y="999.2" width="1630.5" height="3.6" fill="#000"/>
<g fill="#000">
<rect x="258" y="51" width="6" height="1266"/>
<rect x="258" y="51" width="1648" height="5.5"/>
<rect x="1900" y="51" width="6" height="1266"/>
<rect x="258" y="1311" width="1648" height="6"/>
<rect x="262" y="209.3" width="18.5" height="5"/>
<rect x="262" y="367.5" width="18.5" height="5"/>
<rect x="262" y="525.8" width="18.5" height="5"/>
<rect x="262" y="683.9" width="18.5" height="5"/>
<rect x="262" y="836.9" width="18.5" height="5"/>
<rect x="262" y="995.0" width="18.5" height="5"/>
<rect x="262" y="1153.3" width="18.5" height="5"/>
<rect x="585.4" y="1294.5" width="5.6" height="18"/>
<rect x="913.0" y="1294.5" width="5.6" height="18"/>
<rect x="1245.7" y="1294.5" width="5.6" height="18"/>
<rect x="1573.2" y="1294.5" width="5.6" height="18"/>
</g>
<g font-family="'Liberation Sans', Arial, Helvetica, sans-serif" font-size="64" fill="#000">
<text x="242.5" y="75.5" text-anchor="end"><tspan class="one" dx="0.00">1</tspan><tspan dx="-2.12">8</tspan></text>
<text x="242.5" y="388.8" text-anchor="end"><tspan class="one" dx="0.00">1</tspan><tspan dx="-2.12">2</tspan></text>
<text x="238.5" y="706.6" text-anchor="end">6</text>
<text x="238" y="1016" text-anchor="end">0</text>
<text x="239.5" y="1325.5" text-anchor="end">-6</text>
<text x="279.7" y="1400.5" text-anchor="middle">200</text>
<text x="593.4" y="1400.5" text-anchor="middle">220</text>
<text x="924.8" y="1400.5" text-anchor="middle">240</text>
<text x="1255.9" y="1400.5" text-anchor="middle">260</text>
<text x="1587.5" y="1400.5" text-anchor="middle">280</text>
<text x="1902" y="1400.5" text-anchor="middle">300</text>
</g>
<g font-family="'Liberation Sans', Arial, Helvetica, sans-serif" font-size="72.5" fill="#000">
<rect x="809" y="187.3" width="131.4" height="16" fill="#000000"/>
<text x="979.6" y="226">DP</text>
<text x="1215.0" y="226" text-anchor="end"><tspan class="one" dx="0.00">1</tspan><tspan dx="-2.41">2</tspan>4</text>
<rect x="809" y="302.5" width="125.4" height="10" fill="#00C2C2"/>
<text x="979.6" y="336.9">DP</text>
<text x="1196.4" y="336.9" text-anchor="end">26</text>
<rect x="809" y="411.2" width="125.4" height="10" fill="#003C00"/>
<text x="979.6" y="447.6">DP</text>
<text x="1196.4" y="447.6" text-anchor="end"><tspan class="one" dx="0.00">1</tspan><tspan dx="-2.41">9</tspan></text>
<rect x="809" y="520.3" width="125.4" height="10" fill="#FD8239"/>
<text x="979.6" y="558.3">DP</text>
<text x="1177.4" y="558.3" text-anchor="end">7</text>
<rect x="809" y="635.2" width="125.4" height="10" fill="#FF1B80"/>
<text x="979.6" y="669">DP</text>
<text x="1175.4" y="669" text-anchor="end">4</text>
<rect x="809" y="744.1" width="125.4" height="10" fill="#FF4000"/>
<text x="979.6" y="779.5">DP</text>
<text x="1177.4" y="779.5" text-anchor="end">2</text>
</g>
<text x="1117.5" y="1492" font-family="'Liberation Sans', Arial, Helvetica, sans-serif" font-size="71" text-anchor="middle" fill="#000">Wavelength / nm</text>
<text transform="translate(108,1158) rotate(-90)" font-family="'Liberation Sans', Arial, Helvetica, sans-serif" font-size="71" fill="#000">[<tspan font-family="'Liberation Serif', serif">θ</tspan>] x <tspan class="one" dx="2.36">1</tspan><tspan dx="-2.36">0</tspan><tspan font-size="53" dy="-30">-4</tspan><tspan dy="30"> / (degree cm</tspan><tspan font-size="53" dy="-30">2</tspan><tspan dy="30"> dmol</tspan><tspan font-size="53" dy="-30">-</tspan><tspan class="one" font-size="53" dx="1.76">1</tspan><tspan dy="30" dx="-1.76">)</tspan></text>
<g fill="#ffffff"><rect x="177.42" y="70.02" width="12.01" height="6.18"/><rect x="195.28" y="70.02" width="11.61" height="6.18"/></g>
<g fill="#ffffff"><rect x="177.42" y="383.32" width="12.01" height="6.18"/><rect x="195.28" y="383.32" width="11.61" height="6.18"/></g>
<g fill="#ffffff"><rect x="1101.04" y="219.88" width="13.52" height="6.82"/><rect x="1121.16" y="219.88" width="13.05" height="6.82"/></g>
<g fill="#ffffff"><rect x="1122.76" y="441.48" width="13.52" height="6.82"/><rect x="1142.89" y="441.48" width="13.05" height="6.82"/></g>
<g fill="#ffffff" transform="translate(108,1158) rotate(-90)"><rect x="155.30" y="-6.00" width="13.25" height="6.70"/><rect x="175.03" y="-6.00" width="12.80" height="6.70"/></g>
<g fill="#ffffff" transform="translate(108,1158) rotate(-90)"><rect x="918.57" y="-34.66" width="10.05" height="5.36"/><rect x="933.50" y="-34.66" width="9.73" height="5.36"/></g>
</svg>
</body></html>
